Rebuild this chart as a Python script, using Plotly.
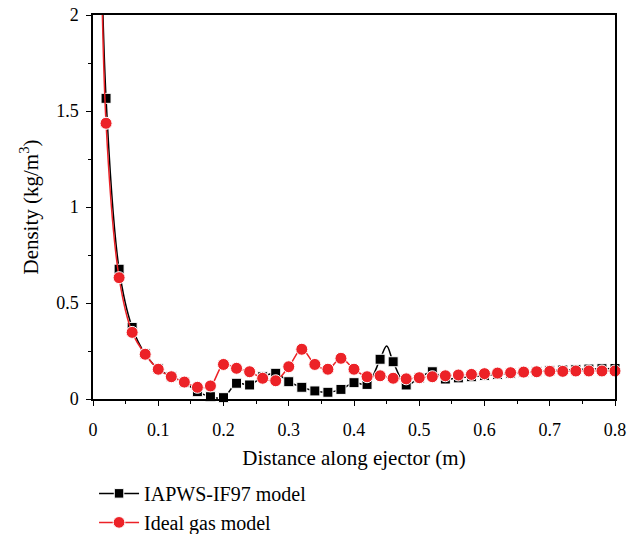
import plotly.graph_objects as go

# Positions along the ejector (m) where the two models are sampled
distance = [0.02, 0.04, 0.06, 0.08, 0.10, 0.12, 0.14, 0.16, 0.18, 0.20,
            0.22, 0.24, 0.26, 0.28, 0.30, 0.32, 0.34, 0.36, 0.38, 0.40,
            0.42, 0.44, 0.46, 0.48, 0.50, 0.52, 0.54, 0.56, 0.58, 0.60,
            0.62, 0.64, 0.66, 0.68, 0.70, 0.72, 0.74, 0.76, 0.78, 0.80]

# Density (kg/m^3), IAPWS-IF97 real-fluid model
iapws_density = [1.566, 0.676, 0.373, 0.235, 0.157, 0.117, 0.087, 0.038, 0.012, 0.007,
                 0.082, 0.073, 0.116, 0.134, 0.090, 0.061, 0.042, 0.035, 0.050, 0.085,
                 0.076, 0.207, 0.194, 0.073, 0.110, 0.142, 0.104, 0.110, 0.116, 0.122,
                 0.128, 0.133, 0.138, 0.143, 0.147, 0.151, 0.154, 0.156, 0.158, 0.159]

# Density (kg/m^3), ideal gas model
ideal_density = [1.436, 0.632, 0.347, 0.233, 0.155, 0.116, 0.088, 0.061, 0.068, 0.180,
                 0.160, 0.142, 0.108, 0.095, 0.168, 0.259, 0.180, 0.155, 0.212, 0.155,
                 0.116, 0.121, 0.108, 0.105, 0.111, 0.116, 0.121, 0.125, 0.128, 0.132,
                 0.135, 0.137, 0.140, 0.142, 0.144, 0.144, 0.146, 0.146, 0.146, 0.146]

# Extra curve-only samples (no marker): nozzle inlet region and the IAPWS shock peak
iapws_extra_x = [0.01, 0.45]
iapws_extra_y = [2.90, 0.276]
ideal_extra_x = [0.01]
ideal_extra_y = [3.00]

x_ticks = [0, 0.1, 0.2, 0.3, 0.4, 0.5, 0.6, 0.7, 0.8]
x_tick_text = ["0", "0.1", "0.2", "0.3", "0.4", "0.5", "0.6", "0.7", "0.8"]
y_ticks = [0, 0.5, 1, 1.5, 2]
y_tick_text = ["0", "0.5", "1", "1.5", "2"]

RED = "#EC2227"
FONT = "Liberation Serif"


def merged(xs, ys, ex, ey, size):
    pts = [(x, y, size) for x, y in zip(xs, ys)] + [(x, y, 0) for x, y in zip(ex, ey)]
    pts.sort(key=lambda p: p[0])
    return [p[0] for p in pts], [p[1] for p in pts], [p[2] for p in pts]


ix, iy, isz = merged(distance, iapws_density, iapws_extra_x, iapws_extra_y, 10)
gx, gy, gsz = merged(distance, ideal_density, ideal_extra_x, ideal_extra_y, 12)

fig = go.Figure()
fig.add_trace(go.Scatter(
    x=ix, y=iy, mode="lines+markers", name="IAPWS-IF97 model",
    line=dict(color="black", width=1.5, shape="spline", smoothing=1),
    marker=dict(symbol="square", size=isz, color="black", opacity=1),
    cliponaxis=False,
))
fig.add_trace(go.Scatter(
    x=gx, y=gy, mode="lines+markers", name="Ideal gas model",
    line=dict(color=RED, width=1.5, shape="spline", smoothing=1),
    marker=dict(symbol="circle", size=gsz, color=RED, opacity=1),
    cliponaxis=False,
))

axis_common = dict(
    showline=True, linecolor="black", linewidth=1.5, mirror=True,
    ticks="outside", ticklen=5, tickwidth=1.2, tickcolor="black",
    showgrid=False, zeroline=False,
    tickfont=dict(family=FONT, size=18, color="black"),
)

fig.update_xaxes(
    range=[0, 0.8], tickvals=x_ticks, ticktext=x_tick_text,
    ticklabelstandoff=9,
    title=dict(text="Distance along ejector (m)", font=dict(family=FONT, size=21, color="black"), standoff=11),
    minor=dict(ticks="outside", ticklen=3, dtick=0.05, tickcolor="black"),
    **axis_common,
)
fig.update_yaxes(
    range=[0, 2], tickvals=y_ticks, ticktext=y_tick_text,
    ticklabelstandoff=4,
    title=dict(text="Density (kg/m<sup>3</sup>)", font=dict(family=FONT, size=21, color="black"), standoff=12),
    minor=dict(ticks="outside", ticklen=3, dtick=0.25, tickcolor="black"),
    **axis_common,
)

fig.update_layout(
    width=643, height=534,
    margin=dict(l=93, r=28, t=15, b=135, autoexpand=False),
    paper_bgcolor="white", plot_bgcolor="white",
    font=dict(family=FONT, color="black"),
    legend=dict(
        x=0.002, y=-0.195, xanchor="left", yanchor="top",
        font=dict(family=FONT, size=20, color="black"),
        bgcolor="rgba(0,0,0,0)", tracegroupgap=0, itemwidth=40,
    ),
)

fig.write_html("out.html")
